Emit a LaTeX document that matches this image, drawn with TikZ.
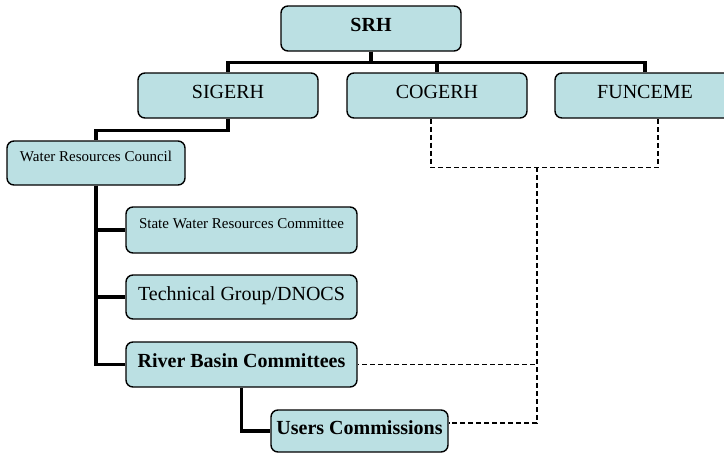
\documentclass[tikz,border=0pt]{standalone}
\usepackage{fontspec}
\setmainfont{Liberation Serif}
\definecolor{boxfill}{RGB}{187,224,227}
\begin{document}
\begin{tikzpicture}[x=1pt,y=-1pt,
  orgbox/.style={draw=black, line width=1.4pt, fill=boxfill, rounded corners=7pt,
    minimum height=45pt, inner sep=0pt, text height=0.68em, text depth=0pt,
    font=\fontsize{20}{24}\selectfont},
  boldbox/.style={orgbox, font=\fontsize{20}{24}\selectfont\bfseries},
  smallbox/.style={orgbox, font=\fontsize{15}{18}\selectfont, text depth=10pt},
  solidlink/.style={line width=3.2pt},
  dashlink/.style={line width=1.2pt, dash pattern=on 5pt off 3pt}]
\clip (0,0) rectangle (724,453);

% boxes
\node[boldbox, minimum width=180pt] (srh) at (371,28.5) {SRH};
\node[orgbox, minimum width=180pt] (sig) at (228,95.5) {SIGERH};
\node[orgbox, minimum width=180pt] (cog) at (437,95.5) {COGERH};
\node[orgbox, minimum width=180pt] (fun) at (645,95.5) {FUNCEME};
\node[smallbox, minimum width=178pt, minimum height=44pt] (wrc) at (96,163) {Water Resources Council};
\node[smallbox, minimum width=231pt, minimum height=46pt] (swrc) at (241.5,230) {State Water Resources Committee};
\node[orgbox, minimum width=231pt, minimum height=44pt] (tg) at (241.5,297) {Technical Group/DNOCS};
\node[boldbox, minimum width=231pt, minimum height=45pt] (rbc) at (241.5,364.5) {River Basin Committees};
\node[boldbox, minimum width=177pt, minimum height=42pt] (uc) at (359.5,431) {Users Commissions};

% solid hierarchy
\draw[solidlink] (srh.south) -- ++(0,11) -| (sig.north);
\draw[solidlink] (srh.south) -- ++(0,11) -| (cog.north);
\draw[solidlink] (srh.south) -- ++(0,11) -| (fun.north);
\draw[solidlink] (sig.south) -- ++(0,12) -| (wrc.north);
\draw[solidlink] (wrc.south) |- (swrc.west);
\draw[solidlink] (wrc.south) |- (tg.west);
\draw[solidlink] (wrc.south) |- (rbc.west);
\draw[solidlink] (rbc.south) |- (uc.west);

% dashed links
\coordinate (dj) at (537,167);
\draw[dashlink] ([xshift=-6pt]cog.south) -- ++(0,49) -| ([xshift=13pt]fun.south);
\draw[dashlink] (dj) |- (rbc.east);
\draw[dashlink] (dj) |- ([yshift=8pt]uc.east);
\end{tikzpicture}
\end{document}
